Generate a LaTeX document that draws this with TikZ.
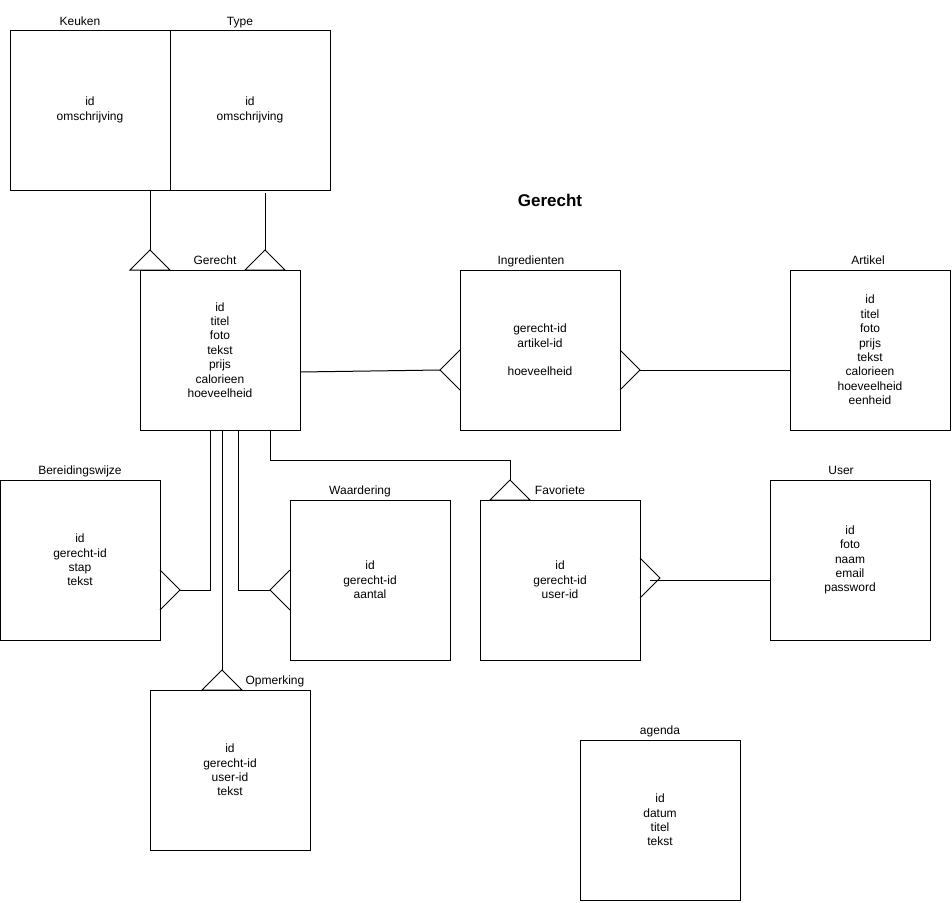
\documentclass[tikz,border=0pt]{standalone}
\usepackage{fontspec}
\setmainfont{Liberation Sans}
\begin{document}
\begin{tikzpicture}[x=1pt,y=-1pt,line width=1pt,line join=miter,
  box/.style={draw,minimum width=160pt,minimum height=160pt,inner sep=0pt,outer sep=0pt,align=center,font=\fontsize{12}{14.4}\selectfont},
  lbl/.style={inner sep=0pt,anchor=base,font=\fontsize{12}{14.4}\selectfont},
  ttl/.style={inner sep=0pt,font=\bfseries\fontsize{17}{20}\selectfont}]
\useasboundingbox (0,0) rectangle (952,902);
\fill[white] (0,0) rectangle (952,902);
% entities
\node[box] (keuken) at (90,110) {id\\omschrijving};
\node[box] (type) at (250,110) {id\\omschrijving};
\node[box] (gerecht) at (220,350) {id\\titel\\foto\\tekst\\prijs\\calorieen\\hoeveelheid};
\node[box] (ingr) at (540,350) {gerecht-id\\artikel-id\\\mbox{}\\hoeveelheid};
\node[box] (artikel) at (870,350) {id\\titel\\foto\\prijs\\tekst\\calorieen\\hoeveelheid\\eenheid};
\node[box] (bereid) at (80,560) {id\\gerecht-id\\stap\\tekst};
\node[box] (waard) at (370,580) {id\\gerecht-id\\aantal};
\node[box] (fav) at (560,580) {id\\gerecht-id\\user-id};
\node[box] (user) at (850,560) {id\\foto\\naam\\email\\password};
\node[box] (opm) at (230,770) {id\\gerecht-id\\user-id\\tekst};
\node[box] (agenda) at (660,820) {id\\datum\\titel\\tekst};
% labels
\node[lbl] (lkeuken) at (80,25) {Keuken};
\node[lbl] (ltype) at (240,25) {Type};
\node[lbl] (lgerecht) at (215,264.5) {Gerecht};
\node[lbl] (lingr) at (531,264.5) {Ingredienten};
\node[lbl] (lartikel) at (868,264.5) {Artikel};
\node[lbl] (lbereid) at (80,474.5) {Bereidingswijze};
\node[lbl] (lwaard) at (360,494.5) {Waardering};
\node[lbl] (lfav) at (560,494.5) {Favoriete};
\node[lbl] (luser) at (841,474.5) {User};
\node[lbl] (lopm) at (275,684.5) {Opmerking};
\node[lbl] (lagenda) at (660,734.5) {agenda};
\node[ttl] (title) at (550,200) {Gerecht};
% Keuken -> Gerecht
\coordinate (kg) at (150,250);
\draw ([xshift=-20pt]keuken.south east) -- (kg);
\draw (kg) -- ++(-20,20) -- ++(40,0) -- cycle;
% Type -> Gerecht
\coordinate (tg) at (265,250);
\draw ([xshift=15pt,yshift=-3pt]type.south) -- (tg);
\draw (tg) -- ++(-20,20) -- ++(40,0) -- cycle;
% Gerecht -> Ingredienten
\coordinate (gi) at (440,370);
\draw ([yshift=-22pt]gerecht.east) -- (gi);
\draw (gi) ++(20,-20) -- (gi) -- ++(20,20);
% Ingredienten -> Artikel
\coordinate (ia) at (640,370);
\draw (ia) -- (artikel.west |- ia);
\draw (ia) ++(-20,-20) -- (ia) -- ++(-20,20);
% Gerecht -> Bereidingswijze
\coordinate (gb) at (180,590);
\draw ([xshift=-10pt]gerecht.south) |- (gb);
\draw (gb) ++(-20,-20) -- (gb) -- ++(-20,20);
% Gerecht -> Waardering
\coordinate (gw) at (270,590);
\draw ([xshift=18pt]gerecht.south) |- (gw);
\draw (gw) ++(20,-20) -- (gw) -- ++(20,20);
% Gerecht -> Opmerking
\coordinate (go) at (222,670);
\draw ([xshift=2pt]gerecht.south) -- (go);
\draw (go) -- ++(-20,20) -- ++(40,0) -- cycle;
% Gerecht -> Favoriete
\coordinate (gf) at (510,480);
\coordinate (gfc) at (270,460);
\draw ([xshift=50pt]gerecht.south) -- (gfc) -| (gf);
\draw (gf) -- ++(-20,20) -- ++(40,0) -- cycle;
% User -> Favoriete
\coordinate (uf) at (660,578);
\coordinate (uf0) at (650,580);
\draw (uf0) -- (user.west |- uf0);
\draw (uf) ++(-20,-20) -- (uf) -- ++(-20,20);
\end{tikzpicture}
\end{document}
